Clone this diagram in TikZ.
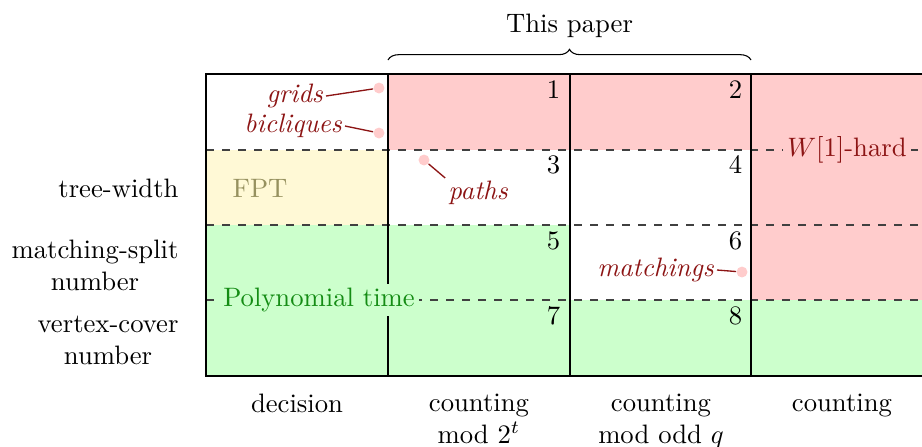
\documentclass[tikz,border=0pt]{standalone}
\usetikzlibrary{decorations.pathreplacing}
\definecolor{hardred}{RGB}{255,204,204}
\definecolor{polygreen}{RGB}{204,255,204}
\definecolor{fptyellow}{RGB}{255,249,214}
\definecolor{annot}{RGB}{140,20,20}
\definecolor{polytext}{RGB}{20,140,20}
\definecolor{fpttext}{RGB}{150,145,95}
\begin{document}
\begin{tikzpicture}[x=0.375pt,y=-0.375pt,
  grid/.style={line width=0.4pt},
  sep/.style={dashed,black!75,line width=0.4pt},
  num/.style={anchor=north east,inner sep=2pt},
  rowlab/.style={anchor=east,align=center,inner sep=0pt},
  collab/.style={anchor=north,align=center,inner sep=0pt},
  ann/.style={text=annot,font=\itshape,inner sep=1pt},
  dot/.style={circle,fill=hardred,inner sep=0pt,minimum size=4.1pt},
  annline/.style={annot,line width=0.5pt}]
\useasboundingbox (0,0) rectangle (922,446);
% fills
\fill[hardred] (388,74) rectangle (751,150);
\fill[hardred] (751,74) rectangle (922,300);
\fill[fptyellow] (206,150) rectangle (388,225);
\fill[polygreen] (206,225) rectangle (570,376);
\fill[polygreen] (570,300) rectangle (922,376);
% dashed separators
\foreach \yy in {150,225,300} \draw[sep] (206,\yy) -- (922,\yy);
% solid frame
\draw[grid] (922,74) -- (206,74) -- (206,376) -- (922,376);
\foreach \xx in {388,570,751} \draw[grid] (\xx,74) -- (\xx,376);
% region labels
\node[fill=hardred,text=annot,inner sep=1.5pt] (hard) at (847,150) {$W[1]$-hard};
\node[fill=polygreen,text=polytext,inner sep=1.5pt] (poly) at (319,300) {Polynomial time};
\node[text=fpttext] (fpt) at (260,188) {FPT};
% cell numbers
\node[num] (n1) at (566,75) {1};
\node[num] (n2) at (748,75) {2};
\node[num] (n3) at (566,150) {3};
\node[num] (n4) at (748,150) {4};
\node[num] (n5) at (566,226) {5};
\node[num] (n6) at (748,226) {6};
\node[num] (n7) at (566,301) {7};
\node[num] (n8) at (748,301) {8};
% annotations
\node[dot] (dgrid) at (379,88) {};
\node[dot] (dbic) at (379,133) {};
\node[dot] (dpath) at (424,160) {};
\node[dot] (dmatch) at (742,272) {};
\node[ann,anchor=east] (tgrid) at (326,96) {grids};
\node[ann,anchor=east] (tbic) at (345,126) {bicliques};
\node[ann] (tpath) at (478,193) {paths};
\node[ann,anchor=east] (tmatch) at (717,270) {matchings};
\draw[annline] (tgrid.east) -- (dgrid);
\draw[annline] (tbic.east) -- (dbic);
\draw[annline] (tpath.north west) -- (dpath);
\draw[annline] (tmatch.east) -- (dmatch);
% row labels
\node[rowlab] (rtw) at (179,188) {tree-width};
\node[rowlab] (rms) at (179,265) {matching-split\\number};
\node[rowlab] (rvc) at (179,340) {vertex-cover\\number};
% column labels
\node[collab] (cdec) at (297,393) {decision};
\node[collab] (c2t) at (479,393) {counting\\mod $2^t$};
\node[collab] (cq) at (661,393) {counting\\mod odd $q$};
\node[collab] (cc) at (842,393) {counting};
% brace
\coordinate (bl) at (388,60);
\coordinate (br) at (751,60);
\draw[decorate,decoration={brace,amplitude=4pt}] (bl) -- (br)
  node[midway,above=5pt] (tp) {This paper};
\end{tikzpicture}
\end{document}
